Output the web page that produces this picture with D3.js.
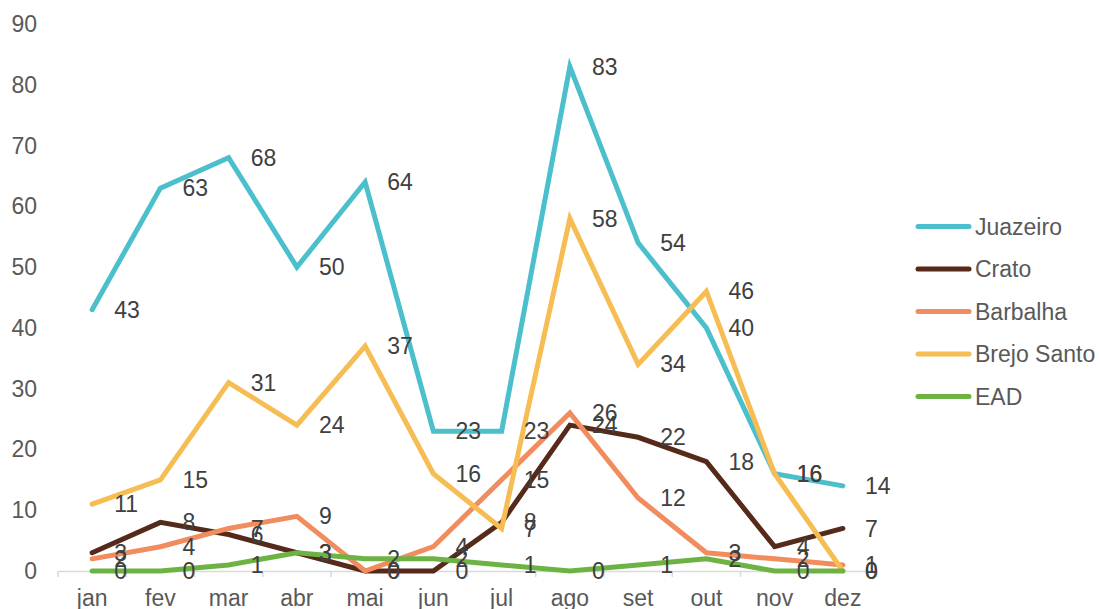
<!DOCTYPE html>
<html><head><meta charset="utf-8">
<script src="https://cdn.jsdelivr.net/npm/d3@7"></script>
<style>body{margin:0;background:#fff}svg{display:block;font-family:"Liberation Sans",Arial,sans-serif}</style>
</head><body><svg id="c" width="1100" height="609"></svg>
<script>
const months = ["jan","fev","mar","abr","mai","jun","jul","ago","set","out","nov","dez"];
const seriesNames = ["Juazeiro","Crato","Barbalha","Brejo Santo","EAD"];
const juazeiro = [43,63,68,50,64,23,23,83,54,40,16,14];
const crato = [3,8,6,3,0,0,8,24,22,18,4,7];
const barbalha = [2,4,7,9,0,4,15,26,12,3,2,1];
const brejoSanto = [11,15,31,24,37,16,7,58,34,46,16,0];
const ead = [0,0,1,3,2,2,1,0,1,2,0,0];
const yTicks = [0,10,20,30,40,50,60,70,80,90];
const colors = ["#4bbfcc","#552a1b","#f08c5e","#f6bd54","#6db344"];

const series = [juazeiro,crato,barbalha,brejoSanto,ead].map((v,i)=>({name:seriesNames[i],values:v,color:colors[i]}));

const svg = d3.select("#c");
const x = d3.scaleBand().domain(months).range([58,877]);
const y = d3.scaleLinear().domain([0,90]).range([571,24]);
const cx = m => x(m)+x.bandwidth()/2;

// y tick labels
svg.append("g").selectAll("text").data(yTicks).join("text")
  .attr("x",37).attr("y",d=>y(d)).attr("dy","0.35em").attr("text-anchor","end")
  .attr("font-size",23).attr("fill","#595959").text(d=>d);

// x axis
const xa = svg.append("g");
xa.append("line").attr("x1",58).attr("x2",877).attr("y1",571.5).attr("y2",571.5).attr("stroke","#d9d9d9").attr("stroke-width",1.5);
const bounds = months.map(m=>x(m)).concat([877]);
xa.selectAll("line.t").data(bounds).join("line").attr("class","t")
  .attr("x1",d=>d).attr("x2",d=>d).attr("y1",571).attr("y2",577).attr("stroke","#d9d9d9").attr("stroke-width",1.5);
xa.selectAll("text").data(months).join("text")
  .attr("x",d=>cx(d)).attr("y",606).attr("text-anchor","middle")
  .attr("font-size",23).attr("fill","#595959").text(d=>d);

// lines
const line = d3.line().x((d,i)=>cx(months[i])).y(d=>y(d));
svg.append("g").selectAll("path").data(series).join("path")
  .attr("d",d=>line(d.values)).attr("fill","none").attr("stroke",d=>d.color)
  .attr("stroke-width",5).attr("stroke-linejoin","miter").attr("stroke-linecap","round");

// data labels
const lg = svg.append("g");
series.forEach(s=>{
  lg.selectAll(null).data(s.values).join("text")
    .attr("x",(d,i)=>cx(months[i])+22).attr("y",d=>y(d)).attr("dy","0.35em")
    .attr("font-size",23).attr("fill","#404040").text(d=>d);
});

// legend
const leg = svg.append("g");
series.forEach((s,i)=>{
  const yy = 226.5 + i*42.5;
  leg.append("line").attr("x1",918).attr("x2",969).attr("y1",yy).attr("y2",yy)
    .attr("stroke",s.color).attr("stroke-width",5).attr("stroke-linecap","round");
  leg.append("text").attr("x",975).attr("y",yy).attr("dy","0.35em")
    .attr("font-size",23).attr("fill","#595959").text(s.name);
});
</script></body></html>
